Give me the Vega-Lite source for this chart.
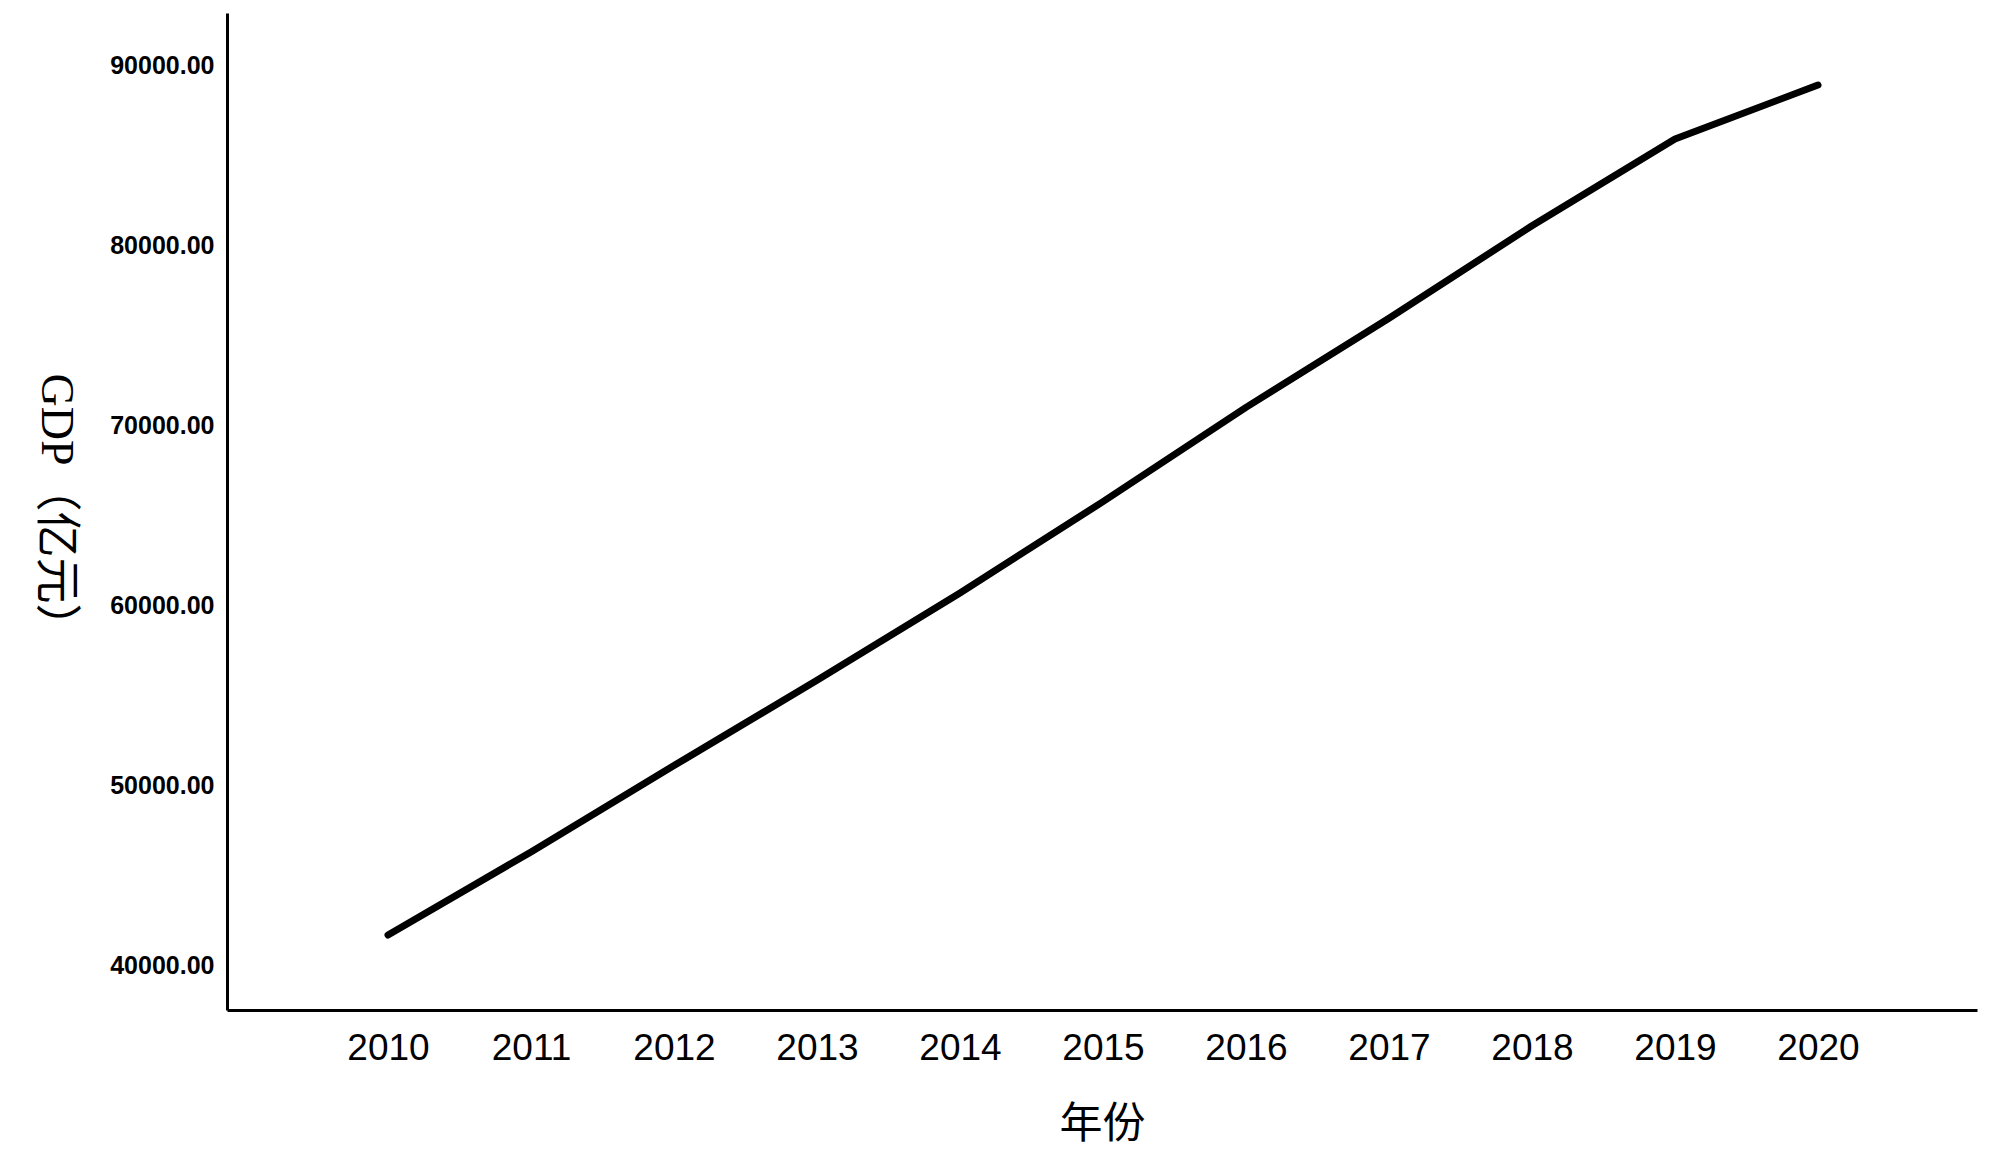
{
  "$schema": "https://vega.github.io/schema/vega-lite/v6.json",
  "width": 1750,
  "height": 997,
  "autosize": {"type": "none"},
  "padding": {"left": 227, "top": 13, "right": 23, "bottom": 165},
  "background": "white",
  "config": {"view": {"stroke": null}},
  "data": {
    "values": [
      {"year": 2010, "gdp": 41720},
      {"year": 2011, "gdp": 46330},
      {"year": 2012, "gdp": 51120},
      {"year": 2013, "gdp": 55860},
      {"year": 2014, "gdp": 60700},
      {"year": 2015, "gdp": 65770},
      {"year": 2016, "gdp": 71000},
      {"year": 2017, "gdp": 75950},
      {"year": 2018, "gdp": 81080},
      {"year": 2019, "gdp": 85890},
      {"year": 2020, "gdp": 88890}
    ]
  },
  "mark": {"type": "line", "color": "black", "strokeWidth": 7, "strokeCap": "round", "strokeJoin": "round"},
  "encoding": {
    "x": {
      "field": "year",
      "type": "quantitative",
      "scale": {"domain": [2008.874, 2021.112], "nice": false, "zero": false},
      "axis": {
        "title": "年份",
        "values": [2010, 2011, 2012, 2013, 2014, 2015, 2016, 2017, 2018, 2019, 2020],
        "format": "d",
        "grid": false,
        "ticks": false,
        "domainColor": "black",
        "domainWidth": 3,
        "labelFont": "Liberation Sans",
        "labelFontSize": 37,
        "labelFontWeight": 500,
        "labelColor": "black",
        "labelPadding": 20,
        "labelBaseline": "top",
        "titleFont": "Liberation Serif, Noto Sans CJK SC",
        "titleFontSize": 43,
        "titleFontWeight": "normal",
        "titleColor": "black",
        "titleX": 875,
        "titleY": 114,
        "titleBaseline": "middle",
        "titleAlign": "center"
      }
    },
    "y": {
      "field": "gdp",
      "type": "quantitative",
      "scale": {"domain": [37558, 92886], "nice": false, "zero": false},
      "axis": {
        "title": "GDP（亿元）",
        "values": [40000, 50000, 60000, 70000, 80000, 90000],
        "format": ".2f",
        "grid": false,
        "ticks": false,
        "domainColor": "black",
        "domainWidth": 3,
        "labelFont": "Liberation Sans",
        "labelFontSize": 25,
        "labelFontWeight": "bold",
        "labelColor": "black",
        "labelPadding": 13,
        "titleFont": "Liberation Serif, Noto Sans CJK SC",
        "titleFontSize": 46,
        "titleFontWeight": "normal",
        "titleColor": "black",
        "titleAngle": 90,
        "titleX": -172,
        "titleY": 498,
        "titleBaseline": "middle",
        "titleAlign": "center"
      }
    }
  }
}
